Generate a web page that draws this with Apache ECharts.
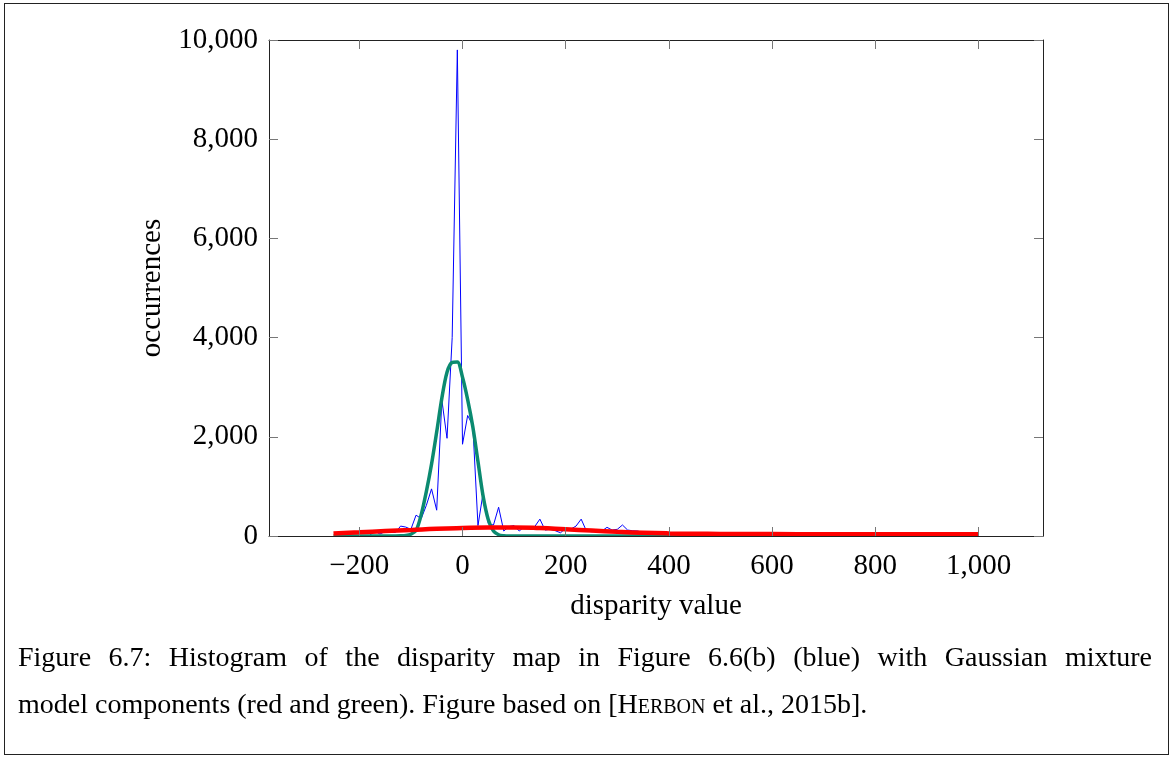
<!DOCTYPE html>
<html>
<head>
<meta charset="utf-8">
<title>Histogram of disparity map</title>
<script src="https://cdn.jsdelivr.net/npm/echarts@6.0.0/dist/echarts.min.js"></script>
<style>
  html, body { margin: 0; padding: 0; background: #fff; }
  #page { position: relative; width: 1174px; height: 765px; overflow: hidden; }
  #frame { position: absolute; left: 4px; top: 3px; width: 1165px; height: 752px; border: 1px solid #222; box-sizing: border-box; }
  #chart { position: absolute; left: 0; top: 0; width: 1174px; height: 765px; }
  .cap { position: absolute; left: 18px; width: 1134px; font-family: 'Liberation Serif', serif; font-size: 28px; line-height: 47px; color: #000; white-space: nowrap; }
  #cap1 { top: 633px; text-align: justify; text-align-last: justify; }
  #cap2 { top: 680px; }
  .sc { font-variant: small-caps; }
</style>
</head>
<body>
<div id="page">
  <div id="frame"></div>
  <div id="chart"></div>
  <div class="cap" id="cap1">Figure 6.7: Histogram of the disparity map in Figure 6.6(b) (blue) with Gaussian mixture</div>
  <div class="cap" id="cap2">model components (red and green). Figure based on [<span class="sc">Herbon</span> et al., 2015b].</div>
</div>
<script>
// histogram (blue): disparity bin -> occurrences
const binDisparity = [
  -200, -190, -180, -170, -160, -150, -140, -130, -120, -110,
  -100, -90, -80, -70, -60, -50, -40, -30, -20, -10,
  0, 10, 20, 30, 40, 50, 60, 70, 80, 90,
  100, 110, 120, 130, 140, 150, 160, 170, 180, 190,
  200, 210, 220, 230, 240, 250, 260, 270, 280, 290,
  300, 310, 320, 330, 340, 350, 360, 370, 380, 390, 400
]
const binCount = [
  0, 0, 10, 100, 40, 90, 80, 70, 200, 180,
  135, 420, 350, 620, 950, 520, 2740, 1970, 4000, 9800,
  1850, 2430, 2230, 210, 870, 250, 220, 580, 100, 190,
  210, 100, 190, 170, 190, 340, 120, 135, 105, 65,
  155, 140, 200, 340, 105, 85, 90, 100, 175, 120,
  135, 222, 120, 105, 100, 60, 40, 30, 20, 15, 10
]

// gaussian component (green)
const greenX = [-250, -130, -120, -110, -100, -90, -80, -70, -60, -50, -40, -30, -20, -10,
  0, 10, 20, 30, 40, 50, 60, 70, 80, 90, 1000]
const greenY = [0, 0, 3, 10, 35, 110, 430, 900, 1450, 2100, 2780, 3300, 3500, 3510,
  3200, 2750, 2200, 1500, 800, 330, 100, 25, 5, 0, 0]

// gaussian component (red)
const redX = [-250, -200, -150, -100, -50, 0, 50, 100, 150, 200, 250, 300, 350, 400,
  450, 500, 600, 700, 800, 900, 1000]
const redY = [50, 75, 100, 122, 145, 160, 170, 172, 160, 135, 110, 85, 65, 52,
  45, 42, 38, 36, 35, 35, 35]

const xTicks = [-200, 0, 200, 400, 600, 800, 1000]

const serif = 'Liberation Serif'
const withComma = v => String(Math.abs(v)).replace(/\B(?=(\d{3})+(?!\d))/g, ',')
const fmt = v => (v < 0 ? '\u2212' : '') + withComma(v)

const pairs = (xs, ys) => xs.map((x, i) => [x, ys[i]])

let myChart = echarts.init(document.getElementById('chart'))

// shared axis styles
const axisLine = { show: true, onZero: false, lineStyle: { color: '#222', width: 1 } }
const axisTick = { show: true, inside: true, length: 9, lineStyle: { color: '#777', width: 1 } }

let option = {
  animation: false,
  grid: {
    left: 269,
    right: 131,
    top: 40,
    bottom: 229,
    containLabel: false,
    outerBoundsMode: 'none'
  },
  xAxis: [
    {
      type: 'value',
      position: 'bottom',
      min: -375,
      max: 1125,
      z: 10,
      axisLine: axisLine,
      axisTick: Object.assign({ customValues: xTicks }, axisTick),
      axisLabel: {
        customValues: xTicks,
        formatter: fmt,
        margin: 16,
        color: '#000',
        fontFamily: serif,
        fontSize: 29
      },
      splitLine: { show: false },
      name: 'disparity value',
      nameLocation: 'middle',
      nameGap: 56,
      nameTextStyle: { color: '#000', fontFamily: serif, fontSize: 29 }
    },
    {
      type: 'value',
      position: 'top',
      min: -375,
      max: 1125,
      z: 10,
      axisLine: axisLine,
      axisTick: Object.assign({ customValues: xTicks }, axisTick),
      axisLabel: { show: false },
      splitLine: { show: false }
    }
  ],
  yAxis: [
    {
      type: 'value',
      position: 'left',
      min: 0,
      max: 10000,
      interval: 2000,
      z: 10,
      axisLine: axisLine,
      axisTick: axisTick,
      axisLabel: {
        formatter: fmt,
        margin: 11,
        color: '#000',
        fontFamily: serif,
        fontSize: 29
      },
      splitLine: { show: false },
      name: 'occurrences',
      nameLocation: 'middle',
      nameGap: 100,
      nameTextStyle: { color: '#000', fontFamily: serif, fontSize: 29 }
    },
    {
      type: 'value',
      position: 'right',
      min: 0,
      max: 10000,
      interval: 2000,
      z: 10,
      axisLine: axisLine,
      axisTick: axisTick,
      axisLabel: { show: false },
      splitLine: { show: false }
    }
  ],
  // white strip under the bottom axis so thick curves look clipped like pgfplots
  graphic: [
    {
      type: 'rect',
      z: 5,
      shape: { x: 262, y: 537, width: 790, height: 6 },
      style: { fill: '#fff' }
    }
  ],
  series: [
    {
      name: 'histogram',
      type: 'line',
      data: pairs(binDisparity, binCount),
      showSymbol: false,
      lineStyle: { color: '#0000ff', width: 1 }
    },
    {
      name: 'green',
      type: 'line',
      data: pairs(greenX, greenY),
      smooth: 0.3,
      showSymbol: false,
      lineStyle: { color: '#0b8a70', width: 3.5, join: 'round' }
    },
    {
      name: 'red',
      type: 'line',
      data: pairs(redX, redY),
      smooth: true,
      showSymbol: false,
      lineStyle: { color: '#ff0000', width: 4.5 }
    }
  ]
}
myChart.setOption(option)
</script>
</body>
</html>
